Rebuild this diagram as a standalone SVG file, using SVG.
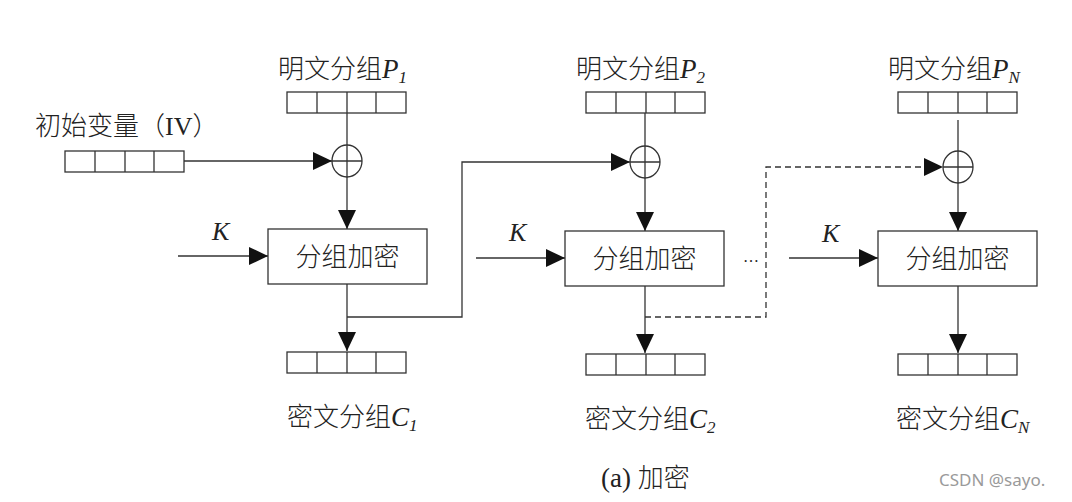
<svg xmlns="http://www.w3.org/2000/svg" width="1072" height="502" viewBox="0 0 1072 502">
<style>
.ln{fill:none;stroke:#333;stroke-width:1.3}
.dash{fill:none;stroke:#333;stroke-width:1.3;stroke-dasharray:6,4}
.box{fill:#fff;stroke:#333;stroke-width:1.3}
.cj{font-family:"Noto Sans CJK SC","Noto Sans",sans-serif;font-size:26px;font-weight:300;fill:#222}
.it{font-family:"Liberation Serif",serif;font-style:italic;font-weight:400;fill:#222}
.sr{font-family:"Liberation Serif",serif;font-weight:400;fill:#222}
.wm{font-family:"Noto Sans","Open Sans",sans-serif;font-size:17px;fill:#9a9a9a}
</style>
<defs>
<marker id="arr" viewBox="0 0 19 18" refX="19" refY="9" markerWidth="19" markerHeight="18" markerUnits="userSpaceOnUse" orient="auto">
<path d="M0,0 L19,9 L0,18 Z" fill="#111"/>
</marker>
<g id="reg">
<rect x="0" y="0" width="119" height="21" class="box"/>
<path d="M30,0V21M60,0V21M89,0V21" class="ln"/>
</g>
<g id="xor">
<ellipse cx="0" cy="0" rx="15" ry="16" class="box"/>
<path d="M-15,0H15M0,-16V16" class="ln"/>
</g>
</defs>
<rect width="1072" height="502" fill="#fff"/>

<g id="connectors">
<path class="ln" d="M347,113V145"/>
<path class="ln" d="M347,177V229" marker-end="url(#arr)"/>
<path class="ln" d="M184,161H332" marker-end="url(#arr)"/>
<path class="ln" d="M178,256H268" marker-end="url(#arr)"/>
<path class="ln" d="M347,284V351" marker-end="url(#arr)"/>
<path class="ln" d="M347,317H462V162H630" marker-end="url(#arr)"/>
<path class="ln" d="M645,113V146"/>
<path class="ln" d="M645,178V231" marker-end="url(#arr)"/>
<path class="ln" d="M476,258H565" marker-end="url(#arr)"/>
<path class="ln" d="M645,286V353" marker-end="url(#arr)"/>
<path class="dash" d="M645,317H766V167H943" marker-end="url(#arr)"/>
<path class="ln" d="M958,120V151"/>
<path class="ln" d="M958,183V231" marker-end="url(#arr)"/>
<path class="ln" d="M789,258H878" marker-end="url(#arr)"/>
<path class="ln" d="M958,286V353" marker-end="url(#arr)"/>
</g>

<g id="iv">
<text class="cj" x="35" y="135">初始变量（<tspan class="sr">IV</tspan>）</text>
<use href="#reg" x="65" y="151"/>
</g>

<g id="p1">
<text class="cj" x="278" y="78">明文分组<tspan class="it" font-size="27">P</tspan><tspan class="it" font-size="17" dy="5">1</tspan></text>
<use href="#reg" x="287" y="92"/>
</g>
<g id="xor1"><use href="#xor" x="347" y="161"/></g>
<g id="enc1">
<rect class="box" x="268" y="229" width="159" height="55"/>
<text class="cj" x="347.5" y="266" text-anchor="middle" font-size="27">分组加密</text>
<text class="it" x="212" y="240" font-size="26">K</text>
</g>
<g id="c1">
<use href="#reg" x="287" y="352"/>
<text class="cj" x="287" y="426">密文分组<tspan class="it" font-size="27">C</tspan><tspan class="it" font-size="17" dy="5">1</tspan></text>
</g>

<g id="p2">
<text class="cj" x="576" y="78">明文分组<tspan class="it" font-size="27">P</tspan><tspan class="it" font-size="17" dy="5">2</tspan></text>
<use href="#reg" x="586" y="92"/>
</g>
<g id="xor2"><use href="#xor" x="645" y="162"/></g>
<g id="enc2">
<rect class="box" x="565" y="231" width="159" height="55"/>
<text class="cj" x="644.5" y="268" text-anchor="middle" font-size="27">分组加密</text>
<text class="it" x="509" y="241" font-size="26">K</text>
</g>
<g id="c2">
<use href="#reg" x="586" y="354"/>
<text class="cj" x="585" y="428">密文分组<tspan class="it" font-size="27">C</tspan><tspan class="it" font-size="17" dy="5">2</tspan></text>
</g>

<g id="dots"><text class="sr" x="743" y="262" font-size="16">…</text></g>

<g id="pN">
<text class="cj" x="888" y="78">明文分组<tspan class="it" font-size="27">P</tspan><tspan class="it" font-size="17" dy="5">N</tspan></text>
<use href="#reg" x="898" y="92"/>
</g>
<g id="xorN"><use href="#xor" x="958" y="167"/></g>
<g id="encN">
<rect class="box" x="878" y="231" width="159" height="55"/>
<text class="cj" x="957.5" y="268" text-anchor="middle" font-size="27">分组加密</text>
<text class="it" x="822" y="242" font-size="26">K</text>
</g>
<g id="cN">
<use href="#reg" x="898" y="354"/>
<text class="cj" x="896" y="428">密文分组<tspan class="it" font-size="27">C</tspan><tspan class="it" font-size="17" dy="5">N</tspan></text>
</g>

<g id="caption">
<text class="cj" x="601" y="487"><tspan class="sr" font-size="27">(a) </tspan>加密</text>
</g>
<text class="wm" x="939" y="486">CSDN @sayo.</text>
</svg>
